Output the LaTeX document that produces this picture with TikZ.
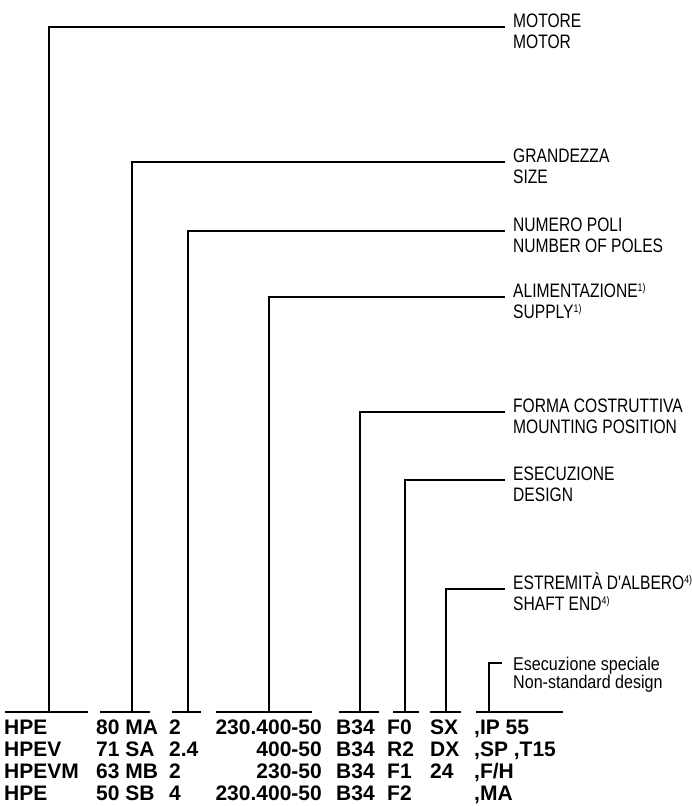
\documentclass[tikz,border=0pt]{standalone}
\usepackage{fontspec}
\setmainfont{Liberation Sans}
\newfontfamily\narrowfont[FakeStretch=0.8]{Liberation Sans}
\newfontfamily\specfont[FakeStretch=0.87]{Liberation Sans}
\newcommand\supnote[1]{\raisebox{5.5pt}{\fontsize{11}{11}\selectfont #1}}
\begin{document}
\begin{tikzpicture}[x=1pt,y=-1pt,
  conn/.style={line width=1.4pt, line join=miter},
  uline/.style={line width=1.4pt},
  lbl/.style={font=\narrowfont\fontsize{19.5}{21}\selectfont, anchor=base west, inner xsep=8pt, inner ysep=0pt},
  slbl/.style={font=\specfont\fontsize{18.5}{18}\selectfont, anchor=base west, inner xsep=8pt, inner ysep=0pt},
  col/.style={font=\bfseries\fontsize{21}{22}\selectfont, inner sep=0pt, anchor=north west, align=left},
  colr/.style={font=\bfseries\fontsize{21}{22}\selectfont, inner sep=0pt, anchor=north east, align=right}]
\useasboundingbox (0,0) rectangle (691,806);

% code columns
\node[col]  (type)   at (4,720)   {HPE\\HPEV\\HPEVM\\HPE};
\node[col]  (size)   at (96,720)  {80 MA\\71 SA\\63 MB\\50 SB};
\node[col]  (poles)  at (169,720) {2\\2.4\\2\\4};
\node[colr] (supply) at (322,720) {230.400-50\\400-50\\230-50\\230.400-50};
\node[col]  (mount)  at (336,720) {B34\\B34\\B34\\B34};
\node[col]  (design) at (387,720) {F0\\R2\\F1\\F2};
\node[col]  (shaft)  at (430,720) {SX\\DX\\24};
\node[col]  (spec)   at (474,720) {,IP 55\\,SP ,T15\\,F/H\\,MA};

% underline segments and their connector feet
\draw[uline] (5,712) -- (88,712);    \coordinate (u1) at (49,712);
\draw[uline] (100,712) -- (150,712); \coordinate (u2) at (132,712);
\draw[uline] (172,712) -- (201,712); \coordinate (u3) at (188,712);
\draw[uline] (216,712) -- (312,712); \coordinate (u4) at (269,712);
\draw[uline] (339,712) -- (379,712); \coordinate (u5) at (360,712);
\draw[uline] (393,712) -- (419,712); \coordinate (u6) at (405,712);
\draw[uline] (430,712) -- (461,712); \coordinate (u7) at (446,712);
\draw[uline] (476,712) -- (563,712); \coordinate (u8) at (489,712);

% labels
\node[lbl] (l1a) at (505,27)  {MOTORE};
\node[lbl] (l1b) at (505,48)  {MOTOR};
\node[lbl] (l2a) at (505,162) {GRANDEZZA};
\node[lbl] (l2b) at (505,183) {SIZE};
\node[lbl] (l3a) at (505,231) {NUMERO POLI};
\node[lbl] (l3b) at (505,252) {NUMBER OF POLES};
\node[lbl] (l4a) at (505,297) {ALIMENTAZIONE\supnote{1)}};
\node[lbl] (l4b) at (505,318) {SUPPLY\supnote{1)}};
\node[lbl] (l5a) at (505,412) {FORMA COSTRUTTIVA};
\node[lbl] (l5b) at (505,433) {MOUNTING POSITION};
\node[lbl] (l6a) at (505,480) {ESECUZIONE};
\node[lbl] (l6b) at (505,501) {DESIGN};
\node[lbl] (l7a) at (505,589) {ESTREMITÀ D'ALBERO\supnote{4)}};
\node[lbl] (l7b) at (505,610) {SHAFT END\supnote{4)}};
\node[slbl] (l8a) at (505,670) {Esecuzione speciale};
\node[slbl] (l8b) at (505,688) {Non-standard design};

% connectors
\draw[conn] (u1) |- (l1a.base west);
\draw[conn] (u2) |- (l2a.base west);
\draw[conn] (u3) |- (l3a.base west);
\draw[conn] (u4) |- (l4a.base west);
\draw[conn] (u5) |- (l5a.base west);
\draw[conn] (u6) |- (l6a.base west);
\draw[conn] (u7) |- (l7a.base west);
\draw[conn] (u8) |- ([yshift=7pt,xshift=-3pt]l8a.base west);
\end{tikzpicture}
\end{document}
